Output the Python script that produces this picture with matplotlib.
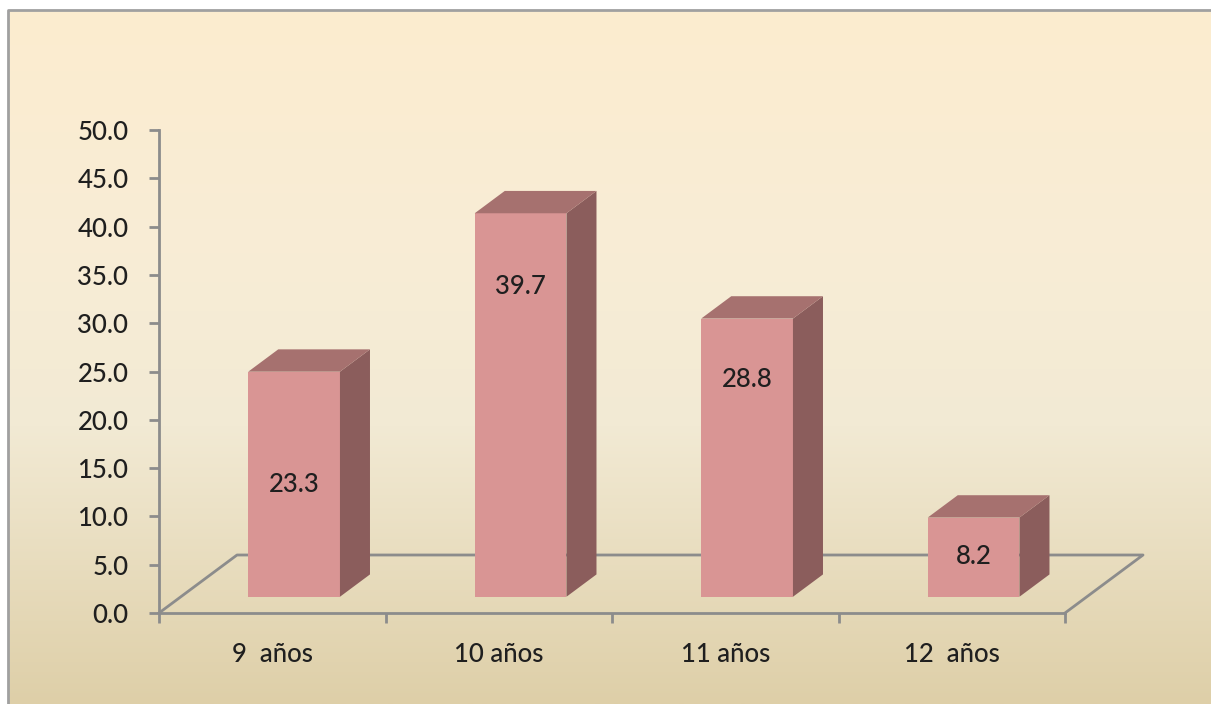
import matplotlib.pyplot as plt
import numpy as np
from matplotlib.patches import Polygon

categories = ['9  años', '10 años', '11 años', '12  años']
values = [23.3, 39.7, 28.8, 8.2]
y_ticks = np.arange(0, 50.1, 5)
# heights where the value labels sit (Excel put them oddly in 3D)
label_y = [13.3, 33.8, 24.2, 5.8]

plt.rcParams['font.family'] = ['Lato', 'DejaVu Sans']
plt.rcParams['font.weight'] = 'medium'

W, H = 1211, 704
fig = plt.figure(figsize=(W / 100, H / 100), dpi=100)
fig.patch.set_facecolor('white')

# background: cream -> pale -> tan gradient, framed by a grey border
bg = fig.add_axes([0, 0, 1, 1], zorder=0)
bg.set_xlim(0, 1)
bg.set_ylim(0, 1)
bg.axis('off')
stops = [0.0, 0.35, 0.6, 1.0]
cols = np.array([[252, 236, 207], [248, 237, 214], [242, 234, 212], [222, 207, 168]]) / 255
t = np.linspace(0, 1, 400)
grad = np.stack([np.interp(t, stops, cols[:, k]) for k in range(3)], axis=-1)[:, None, :]
bx, by = 8 / W, (H - 10) / H
bg.imshow(grad, aspect='auto', extent=[bx, 1, 0, by], interpolation='bilinear')
bg.plot([bx, bx, 1], [0, by, by], color='#a0a0a0', lw=2)

ax = fig.add_axes([159 / W, 91 / H, 906 / W, 483 / H], zorder=1)
ax.set_facecolor('none')
ax.set_xlim(-0.5, 3.5)
ax.set_ylim(0, 50)

grey = '#8c8c8c'
txt = '#1f1f1f'
# floor depth in data units
fdx = 78 / 226.5
fdy = 58 / 9.66
ax.plot([-0.5, -0.5 + fdx, 3.5 + fdx, 3.5], [0, fdy, fdy, 0],
        color=grey, lw=2, clip_on=False, zorder=1)

front_c, side_c, top_c = '#d99594', '#8b5d5c', '#a6716f'
bw = 0.405
d0x, d0y = 0.28 * fdx, 0.28 * fdy
ddx, ddy = 0.385 * fdx, 0.385 * fdy
for i, v in enumerate(values):
    xc = i + d0x
    xl, xr = xc - bw / 2, xc + bw / 2
    y0, y1 = d0y, d0y + v
    ax.add_patch(Polygon([(xl, y0), (xr, y0), (xr, y1), (xl, y1)],
                         closed=True, fc=front_c, ec='none', zorder=3, clip_on=False))
    ax.add_patch(Polygon([(xr, y0), (xr + ddx, y0 + ddy), (xr + ddx, y1 + ddy), (xr, y1)],
                         closed=True, fc=side_c, ec='none', zorder=3, clip_on=False))
    ax.add_patch(Polygon([(xl, y1), (xr, y1), (xr + ddx, y1 + ddy), (xl + ddx, y1 + ddy)],
                         closed=True, fc=top_c, ec='none', zorder=3, clip_on=False))
    ax.text(xc, label_y[i], f'{v:.1f}', ha='center', va='center',
            fontsize=18.5, color=txt, zorder=4)

for s in ['top', 'right']:
    ax.spines[s].set_visible(False)
for s in ['left', 'bottom']:
    ax.spines[s].set_color(grey)
    ax.spines[s].set_linewidth(2)
    ax.spines[s].set_zorder(2)

ax.set_yticks(y_ticks)
ax.set_yticklabels([f'{y:.1f}' for y in y_ticks])
ax.tick_params(axis='y', length=7, width=2, color=grey, pad=15,
               labelsize=18.5, labelcolor=txt)
ax.set_xticks(range(len(categories)))
ax.set_xticklabels(categories)
ax.set_xticks(np.arange(-0.5, len(categories)), minor=True)
ax.tick_params(axis='x', which='major', length=0, pad=21,
               labelsize=18.5, labelcolor=txt)
ax.tick_params(axis='x', which='minor', length=7, width=2, color=grey)

fig.savefig('out.png', dpi=100)
